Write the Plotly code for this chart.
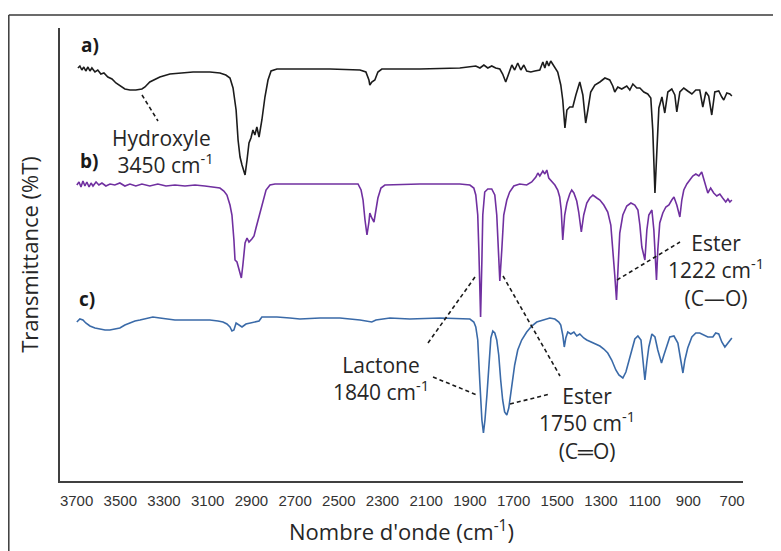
import plotly.graph_objects as go

# ---------------- data ----------------
# wavenumber (cm-1) and transmittance (arbitrary, offset spectra)
wn_a = [3694, 3685, 3676, 3667, 3658, 3648, 3639, 3630, 3616, 3603, 3589, 3575, 3557, 3538, 3520, 3502,
        3479, 3456, 3429, 3401, 3387, 3365, 3319, 3273, 3227, 3167, 3090, 3044, 3017, 2998, 2984, 2970,
        2961, 2952, 2943, 2929, 2920, 2911, 2902, 2893, 2884, 2875, 2865, 2852, 2838, 2824, 2810, 2783,
        2678, 2540, 2403, 2376, 2362, 2358, 2349, 2335, 2321, 2303, 2129, 1946, 1873, 1854, 1836, 1818,
        1800, 1782, 1763, 1750, 1736, 1722, 1708, 1695, 1681, 1667, 1653, 1640, 1621, 1603, 1580, 1566,
        1557, 1548, 1539, 1530, 1521, 1507, 1498, 1484, 1475, 1465, 1456, 1443, 1429, 1415, 1397, 1383,
        1370, 1360, 1347, 1328, 1305, 1282, 1260, 1246, 1237, 1223, 1205, 1182, 1168, 1154, 1136, 1122,
        1104, 1086, 1072, 1063, 1053, 1044, 1035, 1021, 1008, 994, 976, 962, 953, 939, 921, 903,
        884, 866, 848, 834, 820, 807, 793, 779, 761, 747, 738, 724, 710, 701]
tr_a = [413, 415, 411, 414, 410, 414, 410, 413, 409, 411, 407, 408, 404, 402, 398, 395,
        392, 391, 391, 392, 394, 399, 404, 407, 408, 409, 409, 408, 406, 403, 393, 371,
        341, 324, 316, 306, 321, 338, 343, 351, 346, 354, 344, 361, 384, 401, 410, 412,
        412, 412, 411, 409, 401, 396, 399, 401, 409, 412, 412, 413, 415, 413, 416, 413,
        415, 413, 412, 407, 399, 407, 416, 411, 418, 411, 416, 410, 409, 410, 411, 419,
        413, 420, 415, 420, 417, 413, 409, 396, 381, 353, 371, 374, 374, 386, 399, 386,
        358, 371, 389, 396, 399, 403, 401, 395, 389, 394, 392, 395, 391, 397, 393, 393,
        389, 387, 383, 351, 288, 331, 373, 384, 368, 389, 392, 386, 369, 389, 393, 390,
        387, 391, 391, 374, 389, 385, 366, 389, 390, 384, 381, 388, 387, 385]

wn_b = [3699, 3689, 3680, 3671, 3662, 3653, 3643, 3634, 3625, 3611, 3598, 3584, 3566, 3547, 3525, 3502,
        3479, 3456, 3429, 3401, 3365, 3328, 3291, 3250, 3204, 3158, 3113, 3067, 3044, 3026, 3012, 2998,
        2989, 2980, 2975, 2966, 2957, 2946, 2939, 2929, 2920, 2911, 2898, 2888, 2879, 2870, 2861, 2847,
        2833, 2815, 2792, 2678, 2540, 2412, 2398, 2389, 2380, 2371, 2362, 2358, 2349, 2339, 2330, 2321,
        2307, 2289, 2129, 1946, 1900, 1882, 1873, 1864, 1859, 1851, 1845, 1841, 1832, 1818, 1800, 1786,
        1777, 1768, 1763, 1754, 1745, 1731, 1718, 1699, 1672, 1640, 1617, 1598, 1589, 1580, 1566, 1557,
        1548, 1539, 1525, 1511, 1498, 1489, 1482, 1475, 1466, 1456, 1443, 1434, 1424, 1411, 1402, 1390,
        1379, 1365, 1351, 1337, 1319, 1305, 1287, 1269, 1255, 1246, 1237, 1229, 1223, 1214, 1200, 1182,
        1163, 1145, 1131, 1122, 1113, 1099, 1090, 1081, 1067, 1058, 1046, 1040, 1031, 1017, 1003, 989,
        976, 966, 953, 939, 930, 921, 907, 894, 880, 866, 852, 839, 830, 820, 811, 798,
        784, 770, 756, 743, 729, 719, 710, 701]
tr_b = [296, 299, 294, 300, 295, 299, 294, 298, 295, 299, 296, 298, 295, 297, 296, 298,
        295, 297, 295, 297, 295, 297, 295, 296, 295, 296, 295, 294, 293, 290, 286, 276,
        266, 241, 221, 219, 211, 203, 216, 238, 243, 239, 242, 245, 253, 261, 268, 281,
        291, 296, 297, 297, 297, 297, 291, 281, 261, 246, 259, 268, 263, 259, 271, 283,
        293, 296, 297, 297, 296, 293, 286, 266, 231, 164, 221, 266, 289, 292, 292, 286,
        266, 226, 200, 231, 266, 281, 289, 295, 297, 296, 299, 304, 308, 305, 310, 307,
        311, 303, 299, 296, 291, 284, 271, 241, 266, 278, 287, 291, 288, 280, 269, 249,
        266, 278, 283, 286, 283, 281, 276, 269, 256, 234, 206, 181, 211, 248, 266, 275,
        278, 276, 271, 256, 234, 221, 251, 266, 271, 251, 201, 231, 258, 268, 274, 276,
        281, 284, 276, 264, 281, 291, 297, 301, 305, 307, 305, 309, 303, 295, 288, 293,
        288, 285, 287, 283, 279, 282, 279, 281]

wn_c = [3699, 3685, 3671, 3658, 3639, 3616, 3593, 3570, 3548, 3525, 3502, 3479, 3456, 3433, 3410, 3378,
        3351, 3319, 3287, 3250, 3195, 3136, 3090, 3053, 3030, 3012, 2998, 2989, 2980, 2970, 2957, 2943,
        2925, 2907, 2884, 2865, 2852, 2824, 2783, 2724, 2678, 2586, 2495, 2403, 2367, 2349, 2330, 2266,
        2175, 2037, 1900, 1882, 1873, 1864, 1855, 1845, 1838, 1831, 1822, 1813, 1804, 1795, 1786, 1777,
        1768, 1759, 1750, 1741, 1731, 1722, 1708, 1695, 1681, 1663, 1640, 1617, 1594, 1566, 1534, 1511,
        1493, 1484, 1475, 1468, 1461, 1452, 1438, 1424, 1411, 1397, 1379, 1365, 1347, 1328, 1305, 1287,
        1269, 1251, 1232, 1218, 1200, 1186, 1173, 1159, 1145, 1131, 1117, 1108, 1099, 1090, 1081, 1067,
        1053, 1040, 1023, 1012, 998, 985, 966, 948, 935, 925, 916, 903, 884, 866, 848, 830,
        811, 788, 775, 761, 747, 733, 720, 701]
tr_c = [159, 162, 161, 158, 155, 153, 152, 151, 151, 152, 153, 156, 158, 160, 161, 163,
        164, 163, 162, 161, 161, 161, 161, 160, 159, 157, 154, 150, 151, 158, 156, 154,
        157, 158, 159, 160, 164, 164, 164, 163, 162, 163, 163, 161, 160, 159, 161, 163,
        162, 163, 162, 159, 154, 141, 101, 61, 48, 61, 86, 121, 143, 150, 148, 141,
        126, 101, 81, 69, 66, 73, 96, 116, 131, 141, 149, 155, 159, 161, 163, 162,
        159, 156, 146, 134, 143, 149, 147, 149, 145, 147, 143, 141, 139, 137, 135, 132,
        128, 121, 111, 106, 103, 109, 119, 131, 142, 145, 141, 121, 101, 119, 134, 147,
        144, 131, 118, 126, 136, 144, 145, 138, 121, 108, 121, 133, 144, 148, 148, 146,
        144, 144, 148, 147, 139, 134, 138, 143]

tick_vals = list(range(3700, 600, -200))
tick_text = [str(v) for v in tick_vals]

# ---------------- layout geometry ----------------
# The page body has an 8 px default margin, so the figure is drawn 8 px in from the
# window corner; all positions below are given in window pixels and shifted here.
OFF = 8
W, H = 781 - OFF, 551 - OFF
L, R, T, B = 60 - OFF, 38, 28 - OFF, 70
PW, PH = W - L - R, H - T - B


def P(x, y):
    """window pixel -> paper coordinates"""
    x, y = x - OFF, y - OFF
    return (x - L) / PW, (H - B - y) / PH


fig = go.Figure()
for wn, tr, col in [(wn_a, tr_a, "#1c1c1c"), (wn_b, tr_b, "#7030a0"), (wn_c, tr_c, "#3a6aa8")]:
    fig.add_trace(go.Scatter(x=wn, y=tr, mode="lines", line=dict(color=col, width=1.6),
                             showlegend=False, hoverinfo="skip"))

TXT = dict(family="Open Sans", size=21, color="#262626")
annos = []


def txt(s, x, y, font=TXT, align="center", xanchor="center", yanchor="middle"):
    px_, py_ = P(x, y)
    annos.append(dict(text=s, x=px_, y=py_, xref="paper", yref="paper", showarrow=False,
                      xanchor=xanchor, yanchor=yanchor, align=align, font=font))


LBL = dict(family="Open Sans", size=19, color="#1a1a1a")
txt("<b>a)</b>", 90, 45, LBL)
txt("<b>b)</b>", 89, 161, LBL)
txt("<b>c)</b>", 87, 299, LBL)

txt("Hydroxyle<br> 3450 cm<sup>-1</sup>", 110, 151, align="left", xanchor="left")
txt("Ester<br>1222 cm<sup>-1</sup><br>(C—O)", 716, 270)
txt("Lactone<br>1840 cm<sup>-1</sup>", 381, 378)
txt("Ester<br>1750 cm<sup>-1</sup><br>(C═O)", 587, 423)

shapes = []


def dline(x0, y0, x1, y1):
    a0, b0 = P(x0, y0)
    a1, b1 = P(x1, y1)
    shapes.append(dict(type="line", xref="paper", yref="paper", x0=a0, y0=b0, x1=a1, y1=b1,
                       line=dict(color="#1a1a1a", width=1.6, dash="4px,3px")))


dline(142, 95, 158, 121)       # hydroxyle
dline(617, 280, 680, 242)      # ester 1222
dline(428, 343, 475, 277)      # lactone -> b
dline(433, 377, 477, 395)      # lactone -> c
dline(503, 276, 560, 376)      # ester -> b
dline(510, 404, 550, 394)      # ester -> c

# outer frame (top and left edges visible)
fx0, fy0 = P(8.8, 15)
fx1, fy1 = P(790, 560)
shapes.append(dict(type="line", xref="paper", yref="paper", x0=fx0, y0=fy0, x1=fx1, y1=fy0,
                   line=dict(color="#3a3a3a", width=1.5)))
shapes.append(dict(type="line", xref="paper", yref="paper", x0=fx0, y0=fy0, x1=fx0, y1=fy1,
                   line=dict(color="#3a3a3a", width=1.5)))

fig.update_layout(
    width=W, height=H, margin=dict(l=L, r=R, t=T, b=B, autoexpand=False),
    paper_bgcolor="white", plot_bgcolor="white",
    annotations=annos, shapes=shapes,
    xaxis=dict(range=[3776, 650], showgrid=False, zeroline=False, showline=True,
               linecolor="#404040", linewidth=1.5, ticks="outside", ticklen=5,
               tickcolor="rgba(0,0,0,0)", tickvals=tick_vals, ticktext=tick_text,
               tickfont=dict(family="Liberation Sans", size=15, color="#333333"),
               title=dict(text="Nombre d'onde (cm<sup>-1</sup>)", standoff=17,
                          font=dict(family="Open Sans", size=22, color="#262626"))),
    yaxis=dict(range=[0, 453], showgrid=False, zeroline=False, showline=True,
               linecolor="#404040", linewidth=1.5, showticklabels=False, ticks="",
               title=dict(text="Transmittance (%T)", standoff=14,
                          font=dict(family="Open Sans", size=22, color="#262626"))),
)

fig.write_html("out.html")
